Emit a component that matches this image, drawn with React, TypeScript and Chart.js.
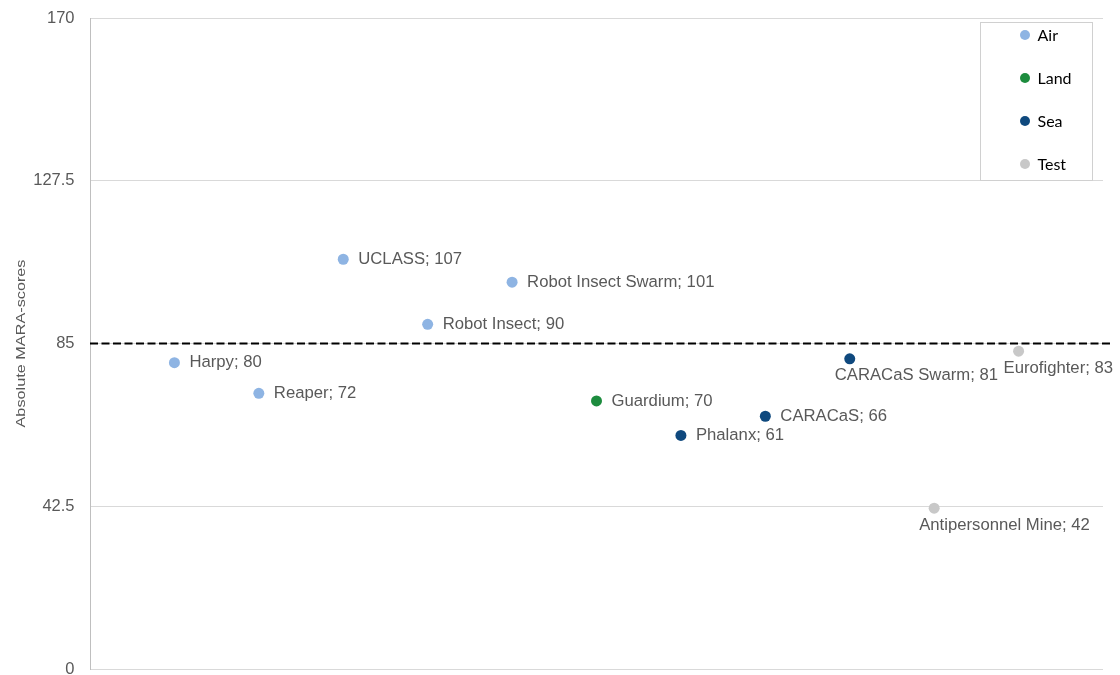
import React, { useEffect, useRef } from "react";
import { Chart, registerables } from "chart.js";

Chart.register(...registerables);

// ---- data ----
const categories = [
  "Harpy",
  "Reaper",
  "UCLASS",
  "Robot Insect",
  "Robot Insect Swarm",
  "Guardium",
  "Phalanx",
  "CARACaS",
  "CARACaS Swarm",
  "Antipersonnel Mine",
  "Eurofighter",
];
const scores = [80, 72, 107, 90, 101, 70, 61, 66, 81, 42, 83];
const domains = ["Air", "Air", "Air", "Air", "Air", "Land", "Sea", "Sea", "Sea", "Test", "Test"];
const domainNames = ["Air", "Land", "Sea", "Test"];
const threshold = 85;
const yTicks = [0, 42.5, 85, 127.5, 170];
const yTitle = "Absolute MARA-scores";

// ---- style ----
const domainColors: Record<string, string> = {
  Air: "#8EB4E3",
  Land: "#1D8C3E",
  Sea: "#0F497E",
  Test: "#C8C8C8",
};
const labelsBelow = ["CARACaS Swarm", "Antipersonnel Mine", "Eurofighter"];
const textColor = "#595959";
const labelFont = "16.7px 'Liberation Sans', Arial, sans-serif";

const labelPlugin = {
  id: "pointLabels",
  afterDatasetsDraw(chart: any) {
    const ctx = chart.ctx;
    ctx.save();
    ctx.font = labelFont;
    ctx.fillStyle = textColor;
    ctx.textBaseline = "middle";
    ctx.textAlign = "left";
    chart.data.datasets.forEach((ds: any, di: number) => {
      if (!ds.names) return;
      const meta = chart.getDatasetMeta(di);
      meta.data.forEach((pt: any, i: number) => {
        const name = ds.names[i];
        const txt = `${name}; ${ds.data[i].y}`;
        if (labelsBelow.includes(name)) {
          ctx.fillText(txt, pt.x - 15, pt.y + 17);
        } else {
          ctx.fillText(txt, pt.x + 15, pt.y);
        }
      });
    });
    ctx.restore();
  },
  afterDraw(chart: any) {
    const ctx = chart.ctx;
    const area = chart.chartArea;
    ctx.save();
    // y-axis title
    ctx.fillStyle = textColor;
    ctx.font = "12.5px 'Liberation Sans', Arial, sans-serif";
    ctx.textAlign = "center";
    ctx.textBaseline = "middle";
    ctx.translate(22, (area.top + area.bottom) / 2);
    ctx.rotate(-Math.PI / 2);
    ctx.scale(1.3, 1);
    ctx.fillText(yTitle, 0, 0);
    ctx.restore();

    // legend box
    ctx.save();
    const bx = 980.5;
    const by = 22.5;
    const bw = 112;
    const bh = 158;
    ctx.fillStyle = "#ffffff";
    ctx.fillRect(bx, by, bw, bh);
    ctx.strokeStyle = "#D0D0D0";
    ctx.lineWidth = 1;
    ctx.strokeRect(bx, by, bw, bh);
    ctx.font = "16px Lato, 'Open Sans', sans-serif";
    ctx.textBaseline = "middle";
    ctx.textAlign = "left";
    domainNames.forEach((d, i) => {
      const y = by + 12.5 + i * 43;
      ctx.beginPath();
      ctx.fillStyle = domainColors[d];
      ctx.arc(bx + 44.5, y, 5, 0, Math.PI * 2);
      ctx.fill();
      ctx.fillStyle = "#000000";
      ctx.fillText(d, bx + 57, y + 1);
    });
    ctx.restore();
  },
};

export default function App() {
  const ref = useRef<HTMLCanvasElement | null>(null);

  useEffect(() => {
    document.body.style.margin = "0";
    const canvas = ref.current;
    if (!canvas) return;

    const pointSets = domainNames.map((d) => {
      const idx = categories.map((_, i) => i).filter((i) => domains[i] === d);
      return {
        type: "scatter" as const,
        label: d,
        names: idx.map((i) => categories[i]),
        data: idx.map((i) => ({ x: i + 1, y: scores[i] })),
        backgroundColor: domainColors[d],
        borderColor: domainColors[d],
        pointRadius: 5.5,
        pointHoverRadius: 5.5,
        borderWidth: 0,
        order: 1,
      };
    });

    const lineSet = {
      type: "line" as const,
      label: "threshold",
      data: [
        { x: 0, y: threshold },
        { x: categories.length + 1.1, y: threshold },
      ],
      borderColor: "#000000",
      borderWidth: 2,
      borderDash: [8, 3.5],
      pointRadius: 0,
      fill: false,
      clip: false as any,
      order: 2,
    };

    const chart = new Chart(canvas, {
      type: "scatter",
      data: { datasets: [lineSet as any, ...pointSets] },
      options: {
        animation: false,
        responsive: false,
        devicePixelRatio: 1,
        layout: { padding: { top: 18, bottom: 6, left: 0, right: 17 } },
        plugins: {
          legend: { display: false },
          tooltip: { enabled: false },
        },
        scales: {
          x: {
            type: "linear",
            min: 0,
            max: categories.length + 1,
            display: false,
          },
          y: {
            type: "linear",
            min: yTicks[0],
            max: yTicks[yTicks.length - 1],
            afterBuildTicks: (scale: any) => {
              scale.ticks = yTicks.map((v) => ({ value: v }));
            },
            afterFit: (scale: any) => {
              scale.width = 90;
              scale.paddingTop = 0;
              scale.paddingBottom = 0;
            },
            grid: { color: "#D9D9D9", drawTicks: false, lineWidth: 1 },
            border: { display: true, color: "#BFBFBF" },
            ticks: {
              padding: 15.5,
              color: textColor,
              font: { family: "'Liberation Sans', Arial, sans-serif", size: 16.5 },
              callback: (v: any) => String(v),
            },
          },
        },
      },
      plugins: [labelPlugin],
    });

    return () => chart.destroy();
  }, []);

  return (
    <div style={{ position: "fixed", left: 0, top: 0, width: 1120, height: 675, background: "#fff" }}>
      <canvas ref={ref} width={1120} height={675} style={{ width: 1120, height: 675 }} />
    </div>
  );
}
